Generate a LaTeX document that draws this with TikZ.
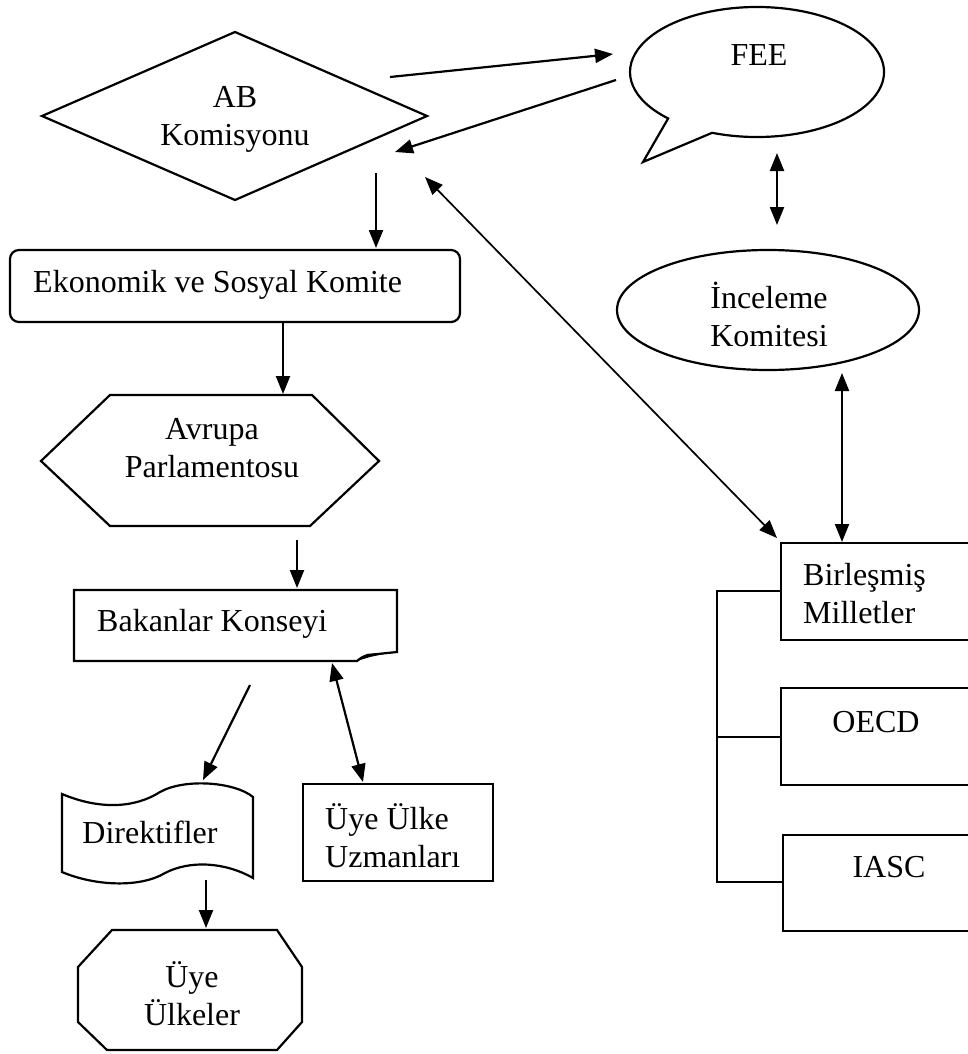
\documentclass[tikz,border=0pt]{standalone}
\usepackage{fontspec}
\setmainfont{Liberation Serif}
\usetikzlibrary{arrows.meta,shapes.geometric}
\begin{document}
\begin{tikzpicture}[x=1pt,y=-1pt,
  line/.style={line width=2.2pt, line join=miter},
  tip/.tip={Triangle[length=18pt,width=14pt]},
  conn/.style={line width=2.2pt, -tip},
  biconn/.style={line width=2.2pt, tip-tip},
  thinbi/.style={line width=1.7pt, tip-tip},
  txt/.style={font=\fontsize{32}{38}\selectfont, inner sep=0pt, align=center},
]
\useasboundingbox (0,0) rectangle (968,1054);

% ---------- shapes ----------
% AB Komisyonu (diamond)
\draw[line] (42,116) -- (235,32) -- (427,116) -- (235,200) -- cycle;
\node[txt] (ab) at (235,119) {AB\\Komisyonu};

% FEE (speech bubble)
\draw[line] ([shift={(110.7:127 and 65)}]757,72)
  arc[start angle=110.7, end angle=-225.6, x radius=127, y radius=65]
  -- (643,162) -- cycle;
\node[txt] (fee) at (759,55) {FEE};

% Inceleme Komitesi (ellipse)
\node[ellipse, draw, line, minimum width=302pt, minimum height=120pt, inner sep=0pt] (incs) at (768,310) {};
\node[txt] (inc) at (769,314) {İnceleme\\Komitesi};

% Ekonomik ve Sosyal Komite (rounded rectangle)
\draw[line, rounded corners=9pt] (10,250) rectangle (460,322);
\node[txt, anchor=west] (esk) at (33,285) {Ekonomik ve Sosyal Komite};

% Avrupa Parlamentosu (hexagon)
\draw[line] (110,395) -- (312,395) -- (379,461) -- (310,526) -- (110,526) -- (41,461) -- cycle;
\node[txt] (ap) at (212,448) {Avrupa\\Parlamentosu};

% Bakanlar Konseyi (folded corner)
\draw[line] (74,590) -- (397,590) -- (397,652) -- (368,655) .. controls (362,657) .. (357,661) -- (74,661) -- cycle;
\fill (357,661) -- (367,654) -- (388,653) -- (370,657) -- cycle;
\node[txt, anchor=west] (bk) at (97,624) {Bakanlar Konseyi};

% Direktifler (punched tape)
\draw[line] (62,794) .. controls (100,810) and (135,808) .. (160,792)
  .. controls (185,778) and (235,782) .. (253,797) -- (253,878)
  .. controls (225,862) and (190,860) .. (165,873)
  .. controls (140,888) and (95,886) .. (62,872) -- cycle;
\node[txt] (dir) at (150,832) {Direktifler};

% Uye Ulke Uzmanlari (rectangle)
\draw[line] (303,784) rectangle (493,881);
\node[txt, anchor=west, align=left] (uzm) at (325,836) {Üye Ülke\\Uzmanları};

% Uye Ulkeler (octagon)
\draw[line] (112,930) -- (277,930) -- (302,967) -- (302,1022) -- (277,1050) -- (107,1050) -- (78,1022) -- (78,967) -- cycle;
\node[txt] (uu) at (192,994) {Üye\\Ülkeler};

% Right boxes (open to the right edge)
\draw[line] (980,543) -- (781,543) -- (781,640) -- (980,640);
\node[txt, anchor=west, align=left] (bm) at (803,594) {Birleşmiş\\Milletler};
\draw[line] (980,688) -- (781,688) -- (781,785) -- (980,785);
\node[txt] (oecd) at (876,722) {OECD};
\draw[line] (980,835) -- (783,835) -- (783,931) -- (980,931);
\node[txt] (iasc) at (889,867) {IASC};

% bracket
\coordinate (brt) at (717,591);
\coordinate (brm) at (717,737);
\coordinate (brb) at (717,882);
\draw[line] (781,591) -- (brt) -- (brb) -- (783,882);
\draw[line] (brm) -- (781,737);

% ---------- connector end points ----------
\coordinate (a1s) at (390,77);  \coordinate (a1e) at (613,54);
\coordinate (a2s) at (616,80);  \coordinate (a2e) at (395,152);
\coordinate (a3s) at (376,173); \coordinate (a3e) at (376,248);
\coordinate (a4s) at (425,177); \coordinate (a4e) at (777,538);
\coordinate (a5s) at (777,153); \coordinate (a5e) at (777,225);
\coordinate (a6s) at (842,373); \coordinate (a6e) at (842,542);
\coordinate (a7s) at (283,322); \coordinate (a7e) at (283,394);
\coordinate (a8s) at (297,540); \coordinate (a8e) at (297,588);
\coordinate (a9s) at (250,685); \coordinate (a9e) at (203,780);
\coordinate (a10s) at (332,663); \coordinate (a10e) at (363,782);
\coordinate (a11s) at (206,880); \coordinate (a11e) at (206,928);

% ---------- connectors ----------
\draw[conn] (a1s) -- (a1e);
\draw[conn] (a2s) -- (a2e);
\draw[conn] (a3s) -- (a3e);
\draw[thinbi] (a4s) -- (a4e);
\draw[biconn] (a5s) -- (a5e);
\draw[biconn] (a6s) -- (a6e);
\draw[conn] (a7s) -- (a7e);
\draw[conn] (a8s) -- (a8e);
\draw[conn] (a9s) -- (a9e);
\draw[biconn] (a10s) -- (a10e);
\draw[conn] (a11s) -- (a11e);
\end{tikzpicture}
\end{document}
